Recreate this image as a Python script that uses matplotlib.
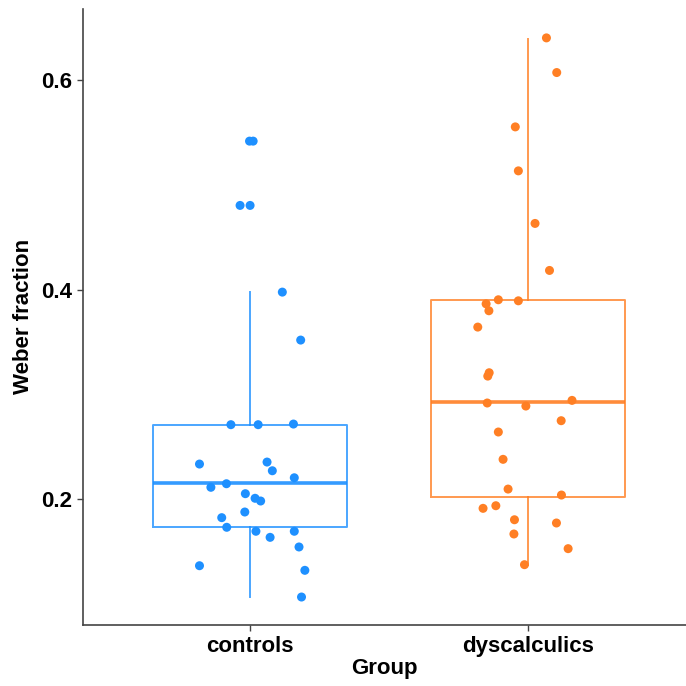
import matplotlib
matplotlib.use("Agg")
import matplotlib.pyplot as plt

plt.rcParams['font.family'] = ['Liberation Sans', 'DejaVu Sans']

groups = ['controls', 'dyscalculics']
colors = ['#1E90FF', '#FF7F24']

# Weber fractions and their horizontal jitter
controls = [0.5418, 0.5418, 0.4804, 0.4804, 0.3976, 0.3518, 0.271, 0.271,
            0.2716, 0.2334, 0.2353, 0.227, 0.2203, 0.2112, 0.2146, 0.2051,
            0.2007, 0.1981, 0.1876, 0.1822, 0.173, 0.1692, 0.1692, 0.1634,
            0.1542, 0.1363, 0.1319, 0.1064]
controls_jit = [-0.002, 0.011, -0.036, 0.0, 0.116, 0.182, -0.069, 0.029,
                0.156, -0.182, 0.061, 0.080, 0.159, -0.141, -0.085, -0.017,
                0.018, 0.038, -0.019, -0.102, -0.084, 0.021, 0.159, 0.072,
                0.176, -0.182, 0.197, 0.185]

dyscalculics = [0.6404, 0.6073, 0.5554, 0.5134, 0.4632, 0.4183, 0.3903,
                0.3893, 0.3864, 0.3798, 0.3642, 0.3206, 0.3174, 0.2917,
                0.2888, 0.2942, 0.2748, 0.264, 0.2379, 0.2095, 0.2038,
                0.1911, 0.1936, 0.1802, 0.1771, 0.1666, 0.1526, 0.1373]
dyscalculics_jit = [0.066, 0.103, -0.046, -0.035, 0.025, 0.077, -0.107,
                    -0.035, -0.151, -0.141, -0.181, -0.140, -0.145, -0.147,
                    -0.008, 0.158, 0.119, -0.107, -0.090, -0.072, 0.120,
                    -0.162, -0.116, -0.049, 0.102, -0.051, 0.144, -0.013]

# box statistics as drawn
whislo = [0.1067, 0.1373]
q1 = [0.1733, 0.2016]
med = [0.215, 0.2926]
q3 = [0.2709, 0.3897]
whishi = [0.3976, 0.6398]

fig = plt.figure(figsize=(6.86, 6.86), dpi=100)
ax = fig.add_axes([0.1214, 0.0894, 0.8786, 0.8975])

for i in range(len(groups)):
    stats = [{'whislo': whislo[i], 'q1': q1[i], 'med': med[i],
              'q3': q3[i], 'whishi': whishi[i], 'fliers': []}]
    ax.bxp(stats, positions=[i + 1], widths=0.7, showcaps=False,
           boxprops=dict(color=colors[i], linewidth=1.4, alpha=0.8),
           whiskerprops=dict(color=colors[i], linewidth=1.4, alpha=0.8),
           medianprops=dict(color=colors[i], linewidth=2.6, alpha=0.9),
           zorder=1)

data = [controls, dyscalculics]
jit = [controls_jit, dyscalculics_jit]
for i in range(len(groups)):
    xs = [i + 1 + j for j in jit[i]]
    ax.scatter(xs, data[i], s=42, color=colors[i], edgecolors='none', zorder=3)

ax.set_xlim(0.4, 2.568)
ax.set_ylim(0.080, 0.668)
ax.set_xticks([1, 2])
ax.set_xticklabels(groups)
ax.set_yticks([0.2, 0.4, 0.6])
ax.set_yticklabels(['0.2', '0.4', '0.6'])

for s in ['top', 'right']:
    ax.spines[s].set_visible(False)
for s in ['left', 'bottom']:
    ax.spines[s].set_color('#444444')
    ax.spines[s].set_linewidth(1.2)

ax.tick_params(axis='both', length=4, width=1, color='#444444',
               labelsize=16, labelcolor='black', pad=4)
for lab in ax.get_xticklabels() + ax.get_yticklabels():
    lab.set_fontweight('bold')

ax.set_xlabel('Group', fontsize=16, fontweight='bold', labelpad=1)
ax.set_ylabel('Weber fraction', fontsize=16, fontweight='bold', labelpad=5)

fig.savefig('out.png', dpi=100)
